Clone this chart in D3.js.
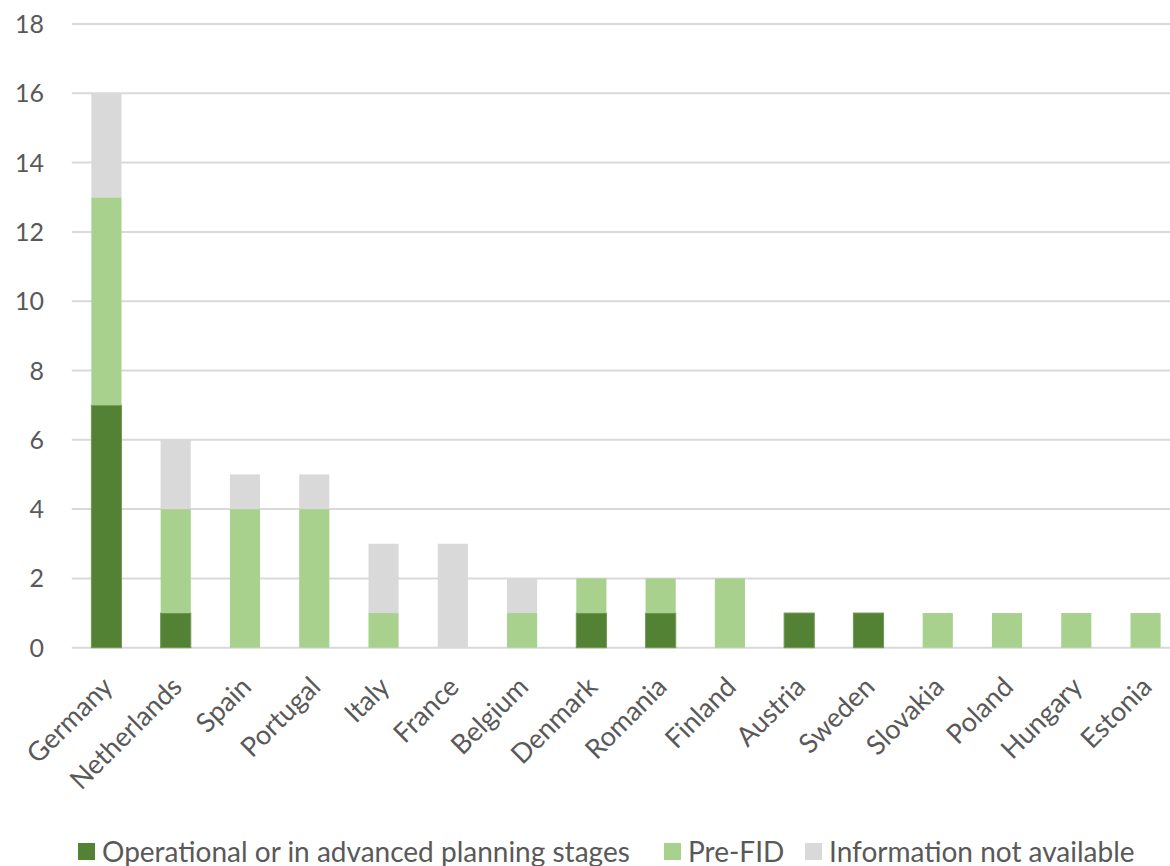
<!DOCTYPE html>
<html>
<head>
<meta charset="utf-8">
<script src="https://cdn.jsdelivr.net/npm/d3@7"></script>
<style>
  html, body { margin: 0; padding: 0; background: #fff; }
  svg { display: block; }
  text { font-family: Lato, "Noto Sans", sans-serif; fill: #595959; }
</style>
</head>
<body>
<svg id="chart" width="1170" height="866"></svg>
<script>
const categories = ["Germany","Netherlands","Spain","Portugal","Italy","France","Belgium","Denmark","Romania","Finland","Austria","Sweden","Slovakia","Poland","Hungary","Estonia"];
const operational = [7,1,0,0,0,0,0,1,1,0,1,1,0,0,0,0];
const preFID      = [6,3,4,4,1,0,1,1,1,2,0,0,1,1,1,1];
const notAvail    = [3,2,1,1,2,3,1,0,0,0,0,0,0,0,0,0];
const seriesNames = ["Operational or in advanced planning stages","Pre-FID","Information not available"];
const seriesColors = ["#548235","#a9d18e","#d9d9d9"];
const yTicks = [0,2,4,6,8,10,12,14,16,18];

const svg = d3.select("#chart");
const W = 1170, H = 866;
const plotLeft = 71.8, plotRight = 1180.2, plotTop = 24, plotBottom = 647.7;

const x = d3.scaleBand().domain(categories).range([plotLeft, plotRight]).paddingInner(0.565).paddingOuter(0.2825);
const y = d3.scaleLinear().domain([0, 18]).range([plotBottom, plotTop]);

// gridlines
svg.append("g").selectAll("line").data(yTicks).join("line")
  .attr("x1", plotLeft).attr("x2", W)
  .attr("y1", d => y(d)).attr("y2", d => y(d))
  .attr("stroke", "#d9d9d9").attr("stroke-width", 2);

// y tick labels
svg.append("g").selectAll("text").data(yTicks).join("text")
  .attr("x", 44).attr("y", d => y(d))
  .attr("text-anchor", "end").attr("dy", "0.36em")
  .style("font-size", "25px")
  .text(d => d);

// stacked data
const rows = categories.map((c, i) => ({cat: c, s0: operational[i], s1: preFID[i], s2: notAvail[i]}));
const stack = d3.stack().keys(["s0","s1","s2"])(rows);

svg.append("g").selectAll("g").data(stack).join("g")
  .attr("fill", (d, i) => seriesColors[i])
  .attr("stroke", (d, i) => i === 0 ? "#6f9a52" : "none")
  .attr("stroke-width", 1)
  .selectAll("rect").data(d => d.filter(p => p[1] - p[0] > 0)).join("rect")
  .attr("x", d => x(d.data.cat))
  .attr("width", x.bandwidth())
  .attr("y", d => y(d[1]))
  .attr("height", d => y(d[0]) - y(d[1]));

// x labels
svg.append("g").selectAll("text").data(categories).join("text")
  .attr("transform", d => `translate(${x(d) + x.bandwidth()/2 + 1},${plotBottom + 34}) rotate(-45)`)
  .attr("text-anchor", "end").attr("dy", "0.36em")
  .style("font-size", "27px")
  .text(d => d);

// legend
const legendItems = [
  {name: seriesNames[0], color: seriesColors[0], x: 78},
  {name: seriesNames[1], color: seriesColors[1], x: 664},
  {name: seriesNames[2], color: seriesColors[2], x: 805}
];
const lg = svg.append("g");
legendItems.forEach(it => {
  lg.append("rect").attr("x", it.x).attr("y", 843).attr("width", 17).attr("height", 17).attr("fill", it.color);
  lg.append("text").attr("x", it.x + 24).attr("y", 862).style("font-size", "28px").text(it.name);
});
</script>
</body>
</html>
